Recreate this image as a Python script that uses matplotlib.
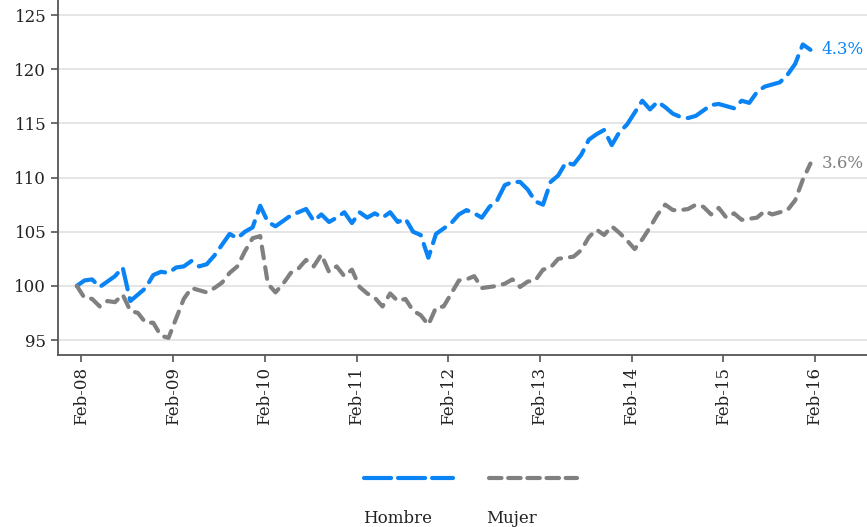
import numpy as np
import matplotlib
matplotlib.use('Agg')
import matplotlib.pyplot as plt
from matplotlib.lines import Line2D

# monthly index, base 100, Feb-08 .. Feb-16
hombre = [100.0, 100.5, 100.6, 99.9, 100.4, 100.9, 101.7, 98.6, 99.2, 99.8,
          101.0, 101.3, 101.2, 101.7, 101.8, 102.3, 101.8, 102.0, 102.8, 103.8,
          104.8, 104.4, 105.0, 105.4, 107.4, 105.9, 105.5, 106.0, 106.5, 106.8,
          107.1, 106.0, 106.6, 105.9, 106.3, 106.8, 105.8, 106.8, 106.3, 106.7,
          106.3, 106.8, 105.9, 106.2, 105.0, 104.7, 102.6, 104.8, 105.3, 105.8,
          106.6, 107.0, 106.7, 106.3, 107.3, 107.9, 109.3, 109.6, 109.6, 108.9,
          107.8, 107.5, 109.6, 110.2, 111.4, 111.2, 112.1, 113.5, 114.0, 114.4,
          113.0, 114.2, 114.9, 116.0, 117.1, 116.3, 117.0, 116.5, 115.9, 115.6,
          115.5, 115.7, 116.2, 116.7, 116.8, 116.6, 116.4, 117.1, 116.9, 117.9,
          118.4, 118.6, 118.8, 119.5, 120.5, 122.3, 121.8]
mujer = [100.0, 98.9, 98.8, 98.1, 98.6, 98.5, 99.2, 97.7, 97.5, 96.6,
         96.6, 95.4, 95.2, 97.0, 98.8, 99.8, 99.6, 99.4, 99.8, 100.3,
         101.2, 101.8, 103.2, 104.4, 104.6, 100.2, 99.4, 100.2, 101.2, 101.6,
         102.4, 101.8, 102.9, 101.3, 101.8, 100.9, 101.5, 99.9, 99.3, 98.9,
         98.1, 99.3, 98.6, 98.8, 97.7, 97.3, 96.4, 98.0, 98.1, 99.3,
         100.5, 100.6, 100.9, 99.8, 99.9, 100.0, 100.2, 100.6, 99.9, 100.4,
         100.5, 101.5, 101.7, 102.5, 102.6, 102.7, 103.3, 104.5, 105.2, 104.7,
         105.5, 104.9, 104.2, 103.4, 104.3, 105.4, 106.6, 107.5, 107.0, 107.0,
         107.1, 107.5, 107.3, 106.6, 107.2, 106.3, 106.7, 106.1, 106.2, 106.3,
         106.9, 106.6, 106.8, 107.0, 107.9, 109.8, 111.3]
tick_labels = ['Feb-08', 'Feb-09', 'Feb-10', 'Feb-11', 'Feb-12',
               'Feb-13', 'Feb-14', 'Feb-15', 'Feb-16']
end_labels = ['4.3%', '3.6%']

blue = '#0A84F5'
grey = '#808080'

plt.rcParams['font.family'] = 'DejaVu Serif'
plt.rcParams['lines.scale_dashes'] = False

fig = plt.figure(figsize=(8.67, 5.27), dpi=100)
ax = fig.add_axes([0.067, 0.326, 0.933, 0.674])

x = np.arange(len(hombre))
l1, = ax.plot(x, hombre, color=blue, lw=3, dashes=(15, 6.5),
              dash_capstyle='round', solid_capstyle='round')
l2, = ax.plot(x, mujer, color=grey, lw=3, dashes=(8.5, 6.5),
              dash_capstyle='round', solid_capstyle='round')

ax.annotate(end_labels[0], (x[-1], hombre[-1]), xytext=(8, 0),
            textcoords='offset points', va='center', color=blue, fontsize=12)
ax.annotate(end_labels[1], (x[-1], mujer[-1]), xytext=(8, 0),
            textcoords='offset points', va='center', color=grey, fontsize=12)

ax.set_xlim(-2.45, 103.4)
ax.set_ylim(93.6, 126.4)
ax.set_yticks(np.arange(95, 126, 5))
ax.set_xticks(np.arange(0, 97, 12) + 0.6)
ax.set_xticklabels(tick_labels, rotation=90)
ax.tick_params(labelsize=12, colors='#222222', length=5, width=1.2)
ax.tick_params(axis='both', color='#555555')

ax.grid(axis='y', color='#e3e3e3', lw=1.3)
ax.set_axisbelow(True)
for s in ['top', 'right']:
    ax.spines[s].set_visible(False)
for s in ['left', 'bottom']:
    ax.spines[s].set_color('#555555')
    ax.spines[s].set_linewidth(1.3)

# legend: line samples above the labels
fig.add_artist(Line2D([0.420, 0.522], [0.093, 0.093], color=blue, lw=3,
                      dashes=(19.5, 5), dash_capstyle='round'))
fig.add_artist(Line2D([0.564, 0.665], [0.093, 0.093], color=grey, lw=3,
                      dashes=(9, 4.8), dash_capstyle='round'))
fig.text(0.458, 0.017, 'Hombre', ha='center', va='center', fontsize=12, color='#222222')
fig.text(0.59, 0.017, 'Mujer', ha='center', va='center', fontsize=12, color='#222222')

fig.savefig('out.png', dpi=100)
